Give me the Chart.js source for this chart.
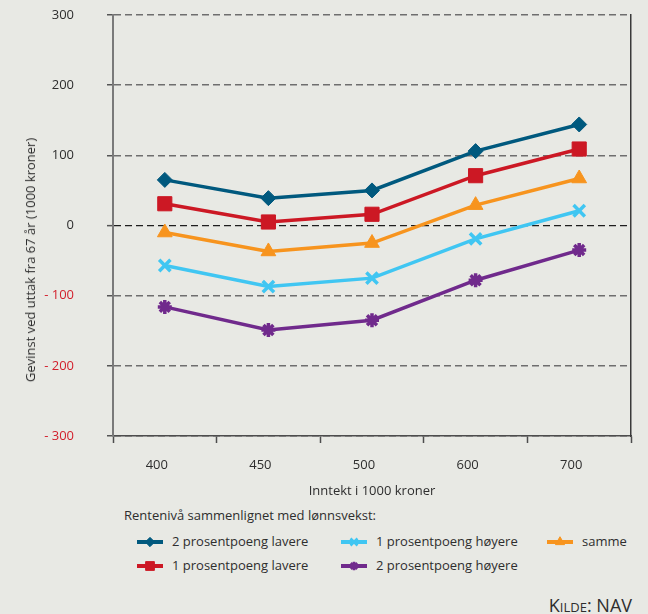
<!DOCTYPE html>
<html lang="no">
<head>
<meta charset="utf-8">
<script src="https://cdn.jsdelivr.net/npm/chart.js@4/dist/chart.umd.min.js"></script>
<style>
  html, body { margin: 0; padding: 0; background: #e8e9e4; }
  body { width: 648px; height: 614px; position: relative; overflow: hidden;
         font-family: "Open Sans", sans-serif; color: #2e2e2e; }
  #wrap { position: absolute; left: 0; top: 0; width: 648px; height: 500px; }
  #ytitle { position: absolute; left: 30px; top: 260px; white-space: nowrap;
            font-size: 13px; transform: translate(-50%, -50%) rotate(-90deg); }
  .leg { position: absolute; font-size: 13px; white-space: nowrap; line-height: 16px; }
  .sym { position: absolute; }
  #source { position: absolute; right: 16px; top: 594px; font-size: 18px; line-height: 22px;
            font-variant: small-caps; color: #2e2e2e; }
</style>
</head>
<body>
<div id="wrap"><canvas id="c"></canvas></div>
<div id="ytitle">Gevinst ved uttak fra 67 år (1000 kroner)</div>
<div id="legend"></div>
<div id="source">Kilde: NAV</div>
<script>
// Income groups (1000 kroner)
const categories = ['400', '450', '500', '600', '700'];

// Gain from drawing pension at 67, by interest level vs. wage growth
const toLavere  = [65, 39, 50, 106, 144];       // 2 prosentpoeng lavere
const enLavere  = [31, 5, 16, 71, 109];         // 1 prosentpoeng lavere
const enHoyere  = [-57, -87, -75, -19, 21];     // 1 prosentpoeng høyere
const toHoyere  = [-116, -149, -135, -78, -35]; // 2 prosentpoeng høyere
const samme     = [-10, -37, -25, 29, 67];      // samme

const seriesNames = ['2 prosentpoeng lavere', '1 prosentpoeng lavere',
                     '1 prosentpoeng høyere', '2 prosentpoeng høyere', 'samme'];
const yTicks = [-300, -200, -100, 0, 100, 200, 300];
const legendTitle = 'Rentenivå sammenlignet med lønnsvekst:';

const styles = [
  { color: '#00597e', point: 'rectRot',  r: 7.5, bw: 1 },
  { color: '#cc1824', point: 'rect',     r: 10,  bw: 1 },
  { color: '#40c6f2', point: 'crossRot', r: 8,   bw: 3.5 },
  { color: '#702a8c', point: 'star',     r: 7,   bw: 3.5 },
  { color: '#f7941e', point: 'triangle', r: 8.5, bw: 1 }
];
const values = [toLavere, enLavere, enHoyere, toHoyere, samme];

const datasets = values.map((v, i) => ({
  label: seriesNames[i],
  data: v,
  order: i,
  borderColor: styles[i].color,
  backgroundColor: styles[i].color,
  borderWidth: 3.5,
  pointStyle: styles[i].point,
  pointRadius: styles[i].r,
  pointBorderWidth: styles[i].bw,
  pointBackgroundColor: styles[i].color,
  pointBorderColor: styles[i].color,
  tension: 0,
  xAxisID: 'x',
  yAxisID: 'y'
}));

const FONT = '"Open Sans", sans-serif';
const noPad = s => { s.paddingTop = 0; s.paddingBottom = 0; s.paddingLeft = 0; s.paddingRight = 0; };

new Chart(document.getElementById('c'), {
  type: 'line',
  data: { labels: categories, datasets },
  options: {
    responsive: true,
    maintainAspectRatio: false,
    animation: false,
    devicePixelRatio: 1,
    layout: { padding: { top: 15, left: 0, right: 0, bottom: 0 } },
    plugins: { legend: { display: false }, tooltip: { enabled: false } },
    scales: {
      x: {
        type: 'category',
        offset: true,
        grid: { offset: true, drawOnChartArea: false, tickLength: 7,
                tickColor: '#4d4d4d', tickWidth: 1.5 },
        border: { display: true, color: '#4d4d4d', width: 1.5 },
        ticks: { color: '#2e2e2e', font: { family: FONT, size: 13 }, padding: 14,
                 labelOffset: -8, maxRotation: 0 },
        title: { display: true, text: 'Inntekt i 1000 kroner', color: '#2e2e2e',
                 font: { family: FONT, size: 13 }, padding: { top: 0, bottom: 1 } },
        afterFit: s => { s.height = 64; noPad(s); }
      },
      y: {
        min: -300, max: 300,
        afterBuildTicks: s => { s.ticks = yTicks.map(v => ({ value: v })); },
        grid: {
          color: c => c.tick && c.tick.value === 0 ? '#1e1e1e' : '#6e6e6e',
          lineWidth: c => c.tick && c.tick.value === 0 ? 1.3 : 1.5,
          tickLength: 6, tickColor: '#555', tickWidth: 1.5, tickBorderDash: []
        },
        border: { display: true, color: '#7a7a7a', width: 2, dash: [7, 4] },
        ticks: {
          color: c => c.tick && c.tick.value < 0 ? '#d21f2b' : '#2e2e2e',
          font: { family: FONT, size: 13 },
          padding: 33,
          callback: v => v < 0 ? '- ' + Math.abs(v) : String(v)
        },
        afterFit: s => { s.width = 113; noPad(s); }
      },
      yRight: {
        position: 'right',
        min: -300, max: 300,
        grid: { drawOnChartArea: false, drawTicks: false },
        border: { display: true, color: '#3a3a3a', width: 1.5 },
        ticks: { display: false },
        afterFit: s => { s.width = 17; noPad(s); }
      }
    }
  }
});

// Legend below the chart: title, then entries column by column
(function buildLegend() {
  const host = document.getElementById('legend');
  const t = document.createElement('div');
  t.className = 'leg';
  t.textContent = legendTitle;
  t.style.left = '124px';
  t.style.top = '507px';
  host.appendChild(t);

  const colSym = [137, 341, 547];
  const colText = [172, 376, 582];
  const rowY = [542, 566];
  seriesNames.forEach((name, i) => {
    const col = Math.floor(i / 2), row = i % 2;
    const cv = document.createElement('canvas');
    cv.width = 28; cv.height = 14;
    cv.className = 'sym';
    cv.style.left = colSym[col] + 'px';
    cv.style.top = (rowY[row] - 7) + 'px';
    host.appendChild(cv);
    const ctx = cv.getContext('2d');
    ctx.strokeStyle = styles[i].color;
    ctx.fillStyle = styles[i].color;
    ctx.lineWidth = 4;
    ctx.beginPath(); ctx.moveTo(0, 7); ctx.lineTo(26, 7); ctx.stroke();
    if (Chart.helpers && Chart.helpers.drawPoint) {
      ctx.lineWidth = styles[i].bw > 1 ? 2.5 : 1;
      Chart.helpers.drawPoint(ctx, { pointStyle: styles[i].point, radius: styles[i].r * 0.62,
                                     rotation: 0, borderWidth: ctx.lineWidth }, 13, 7);
    }
    const lbl = document.createElement('div');
    lbl.className = 'leg';
    lbl.textContent = name;
    lbl.style.left = colText[col] + 'px';
    lbl.style.top = (rowY[row] - 9) + 'px';
    host.appendChild(lbl);
  });
})();
</script>
</body>
</html>
